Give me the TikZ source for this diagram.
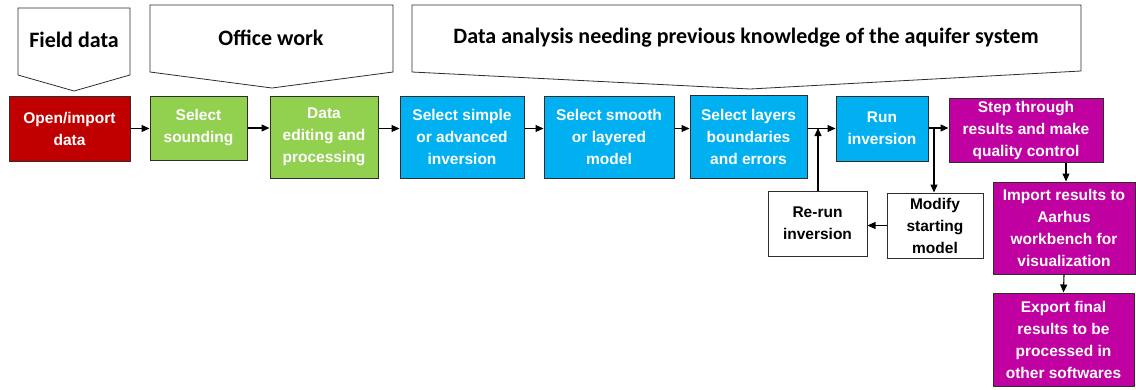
\documentclass[tikz,border=0pt]{standalone}
\usepackage{fontspec}
\setmainfont{Liberation Sans}
\newfontfamily\banfont{Carlito}
\usetikzlibrary{arrows.meta}
\definecolor{cred}{RGB}{192,0,0}
\definecolor{cgreen}{RGB}{146,208,80}
\definecolor{cblue}{RGB}{0,176,240}
\definecolor{cmag}{RGB}{192,0,160}
\definecolor{cline}{RGB}{45,45,45}
\begin{document}
\begin{tikzpicture}[x=1pt,y=-1pt,
 box/.style={draw=cline, line width=1pt, inner sep=0pt, align=center,
   font=\fontsize{15.5}{22}\selectfont\bfseries, text=white},
 wbox/.style={box, fill=white, text=black},
 banner/.style={draw=cline, line width=0.8pt, fill=white},
 bantext/.style={font=\banfont\fontsize{22}{24}\selectfont\bfseries, inner sep=0pt},
 arr/.style={draw=black, line width=1.1pt, -{Triangle[length=8pt,width=7pt]}}
]
\useasboundingbox (0,0) rectangle (1136,389);

% banners
\draw[banner] (18,8) -- (130,8) -- (130,75) -- (74,91) -- (18,75) -- cycle;
\draw[banner] (150,5) -- (393,5) -- (393,72) -- (272,88) -- (150,72) -- cycle;
\draw[banner] (412,5) -- (1081,5) -- (1081,71) -- (750,89) -- (412,72) -- cycle;
\node[bantext] (tfield) at (74,40) {Field data};
\node[bantext] (toffice) at (271,38) {Office work};
\node[bantext] (tdata) at (746,38) {Data analysis needing previous knowledge of the aquifer system};

% boxes
\node[box, fill=cred, minimum width=121pt, minimum height=65pt] (open) at (69.5,128.5) {Open/import\\data};
\node[box, fill=cgreen, minimum width=97pt, minimum height=64pt] (sound) at (198.5,128) {Select\\sounding};
\node[box, fill=cgreen, minimum width=108pt, minimum height=82pt] (edit) at (324,137) {Data\\editing and\\processing};
\node[box, fill=cblue, minimum width=124pt, minimum height=82pt] (simple) at (462,137) {Select simple\\or advanced\\inversion};
\node[box, fill=cblue, minimum width=130pt, minimum height=82pt] (smooth) at (609,137) {Select smooth\\or layered\\model};
\node[box, fill=cblue, minimum width=117pt, minimum height=83pt] (layers) at (748.5,136.5) {Select layers\\boundaries\\and errors};
\node[box, fill=cblue, minimum width=92pt, minimum height=65pt] (run) at (882,128.5) {Run\\inversion};
\node[box, fill=cmag, minimum width=154pt, minimum height=64pt] (step) at (1026,130) {Step through\\results and make\\quality control};
\node[box, fill=cmag, minimum width=142pt, minimum height=92pt] (import) at (1064,228) {Import results to\\Aarhus\\workbench for\\visualization};
\node[box, fill=cmag, minimum width=141pt, minimum height=93pt] (export) at (1063.5,339.5) {Export final\\results to be\\processed in\\other softwares};
\node[wbox, minimum width=96pt, minimum height=65pt] (modify) at (935,225.5) {Modify\\starting\\model};
\node[wbox, minimum width=99pt, minimum height=65pt] (rerun) at (817.5,223.5) {Re-run\\inversion};

% connectors
\draw[arr] (open.east) -- (open.east -| sound.west);
\draw[arr] (sound.east) -- (sound.east -| edit.west);
\draw[arr] (edit.east |- open.east) -- (simple.west |- open.east);
\draw[arr] (simple.east |- open.east) -- (smooth.west |- open.east);
\draw[arr] (smooth.east |- open.east) -- (layers.west |- open.east);
\draw[arr] (layers.east |- open.east) -- (run.west |- open.east);
\coordinate (jn) at (818,128);
\coordinate (br) at (934,128);
\draw[arr] (run.east |- br) -- (step.west |- br);
\draw[arr] (br) -- (br |- modify.north);
\draw[arr] (modify.west) -- (modify.west -| rerun.east);
\draw[arr] (rerun.north -| jn) -- (jn);
\coordinate (si) at (1066,0);
\draw[arr] (step.south -| si) -- (import.north -| si);
\draw[arr] (import.south) -- (export.north);
\end{tikzpicture}
\end{document}
